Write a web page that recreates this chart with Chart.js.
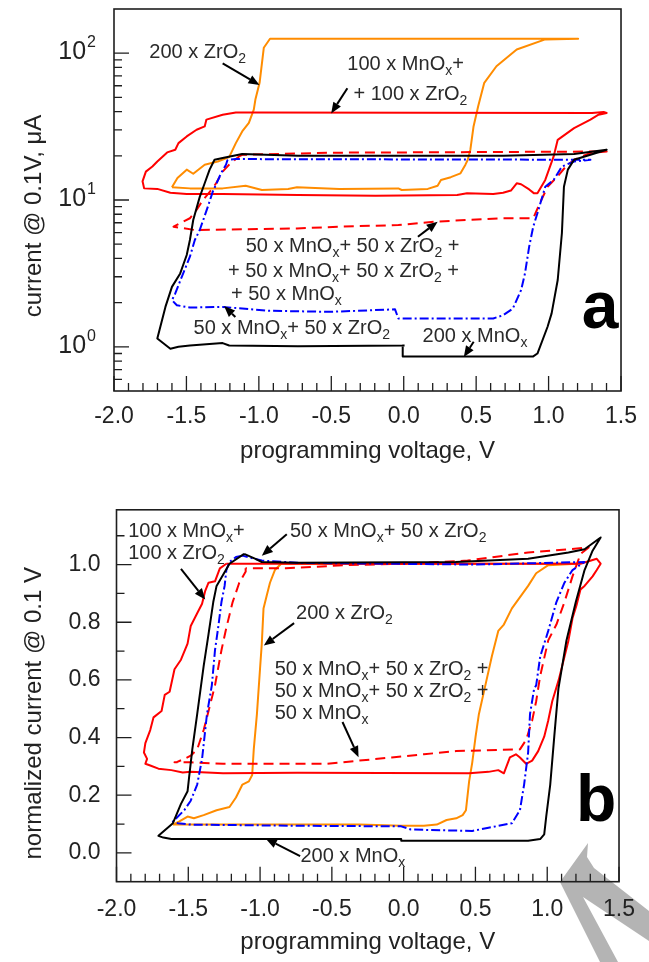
<!DOCTYPE html>
<html>
<head>
<meta charset="utf-8">
<script src="https://cdn.jsdelivr.net/npm/chart.js@4.4.1/dist/chart.umd.min.js"></script>
<style>
html, body { margin: 0; padding: 0; background: #fff; }
body { width: 649px; height: 962px; position: relative; overflow: hidden; }
.panel { position: absolute; left: 0; width: 649px; }
#panelA { top: 0; height: 480px; }
#panelB { top: 480px; height: 482px; }
#mark { position: absolute; left: 0; top: 0; }
</style>
</head>
<body>
<svg id="mark" width="649" height="962"><polygon points="588,843 560,882 600,962 618,962 583,897 649,941 649,911 594,868 587,857" fill="#b4b4b4"/></svg>
<div class="panel" id="panelA"><canvas id="chartA"></canvas></div>
<div class="panel" id="panelB"><canvas id="chartB"></canvas></div>
<script>
// ---- panel a : current @ 0.1 V (uA) vs programming voltage (V) ----
var aZrO2V = [-1.600,-1.562,-1.498,-1.453,-1.374,-1.284,-1.205,-1.159,-1.115,-1.069,-1.035,-1.024,-0.995,-0.966,-0.923,1.204,0.977,0.780,0.640,0.556,0.514,0.482,0.460,0.442,0.426,0.392,0.325,0.257,0.234,0.166,-0.014,-0.037,-0.444,-0.737,-0.798,-0.979,-1.091,-1.250,-1.476,-1.600];
var aZrO2I = [12.2,14.1,16.1,15.1,17.4,18.3,19.6,24.4,29.3,33.5,41.3,48.3,62.8,108.9,125.4,125.4,124.1,106,81.5,62.8,43.5,31.7,22.0,18.8,17.4,15.2,14.3,13.7,12.5,11.9,11.7,12.0,11.9,12.2,11.9,11.7,12.5,12.0,12.0,12.2];

var aMix100V = [-1.047,-1.159,-1.250,-1.362,-1.374,-1.430,-1.498,-1.555,-1.577,-1.633,-1.701,-1.735,-1.780,-1.803,-1.792,-1.701,-1.611,-1.498,-1.250,-0.730,-0.195,0.369,0.437,0.618,0.686,0.740,0.780,0.810,0.866,0.900,0.923,0.977,1.035,1.063,1.176,1.289,1.345,1.401,1.380,1.300,-1.047];
var aMix100I = [39.5,39.5,38.1,35.3,31.7,30.1,27.1,24.4,22.0,21.1,18.3,16.9,15.6,13.4,12.0,11.9,11.2,11.0,11.0,10.8,10.7,10.8,11.1,11.0,11.2,11.6,13.0,12.8,11.8,11.1,11.1,13.7,19.8,25.7,30.9,35.3,38.1,39.2,39.8,39.2,39.5];

var aMnOxV = [0.006,-0.730,-1.205,-1.250,-1.476,-1.555,-1.611,-1.701,-1.645,-1.600,-1.543,-1.498,-1.476,-1.453,-1.408,-1.374,-1.340,-1.306,-1.250,-1.115,-0.730,0.686,1.176,1.401,1.176,1.133,1.106,1.092,1.063,1.021,0.993,0.923,0.894,-0.007,-0.007,0.006];
var aMnOxI = [1.02,1.01,1.02,1.06,1.02,1.00,0.97,1.14,1.87,2.56,3.16,4.22,5.34,7.31,10.5,13.0,16.1,18.8,19.3,20.6,20.0,20.0,20.6,22.0,18.8,16.1,12.3,5.96,2.85,1.69,1.37,0.90,0.86,0.86,1.02,1.02];

var aMix50V = [-1.216,-1.227,-1.261,-1.318,-1.352,-1.408,-1.442,-1.476,-1.532,-1.577,-1.600,-1.566,-1.476,-1.250,-0.934,-0.512,-0.060,-0.037,0.618,0.686,0.753,0.810,0.837,0.866,0.894,0.923,0.950,0.977,1.035,1.092,1.176,1.289,-1.159,-1.216];
var aMix50I = [18.8,17.4,15.2,11.4,9.01,6.25,5.34,4.11,3.00,2.31,2.08,1.92,1.85,1.87,1.76,1.73,1.80,1.56,1.56,1.64,1.82,2.43,3.16,4.81,6.58,8.13,10.0,12.3,13.7,16.9,18.3,18.8,19.0,18.8];

var aMix250V = [-1.115,-1.137,-1.205,-1.250,-1.295,-1.329,-1.386,-1.430,-1.476,-1.589,-1.445,-0.737,-0.444,-0.037,0.212,0.686,0.894,0.950,0.993,1.063,1.119,1.176,1.289,1.401,0.5,-0.5,-1.115];
var aMix250I = [20.3,19.8,17.4,15.6,13.0,11.7,10.0,8.56,7.51,6.58,6.25,6.40,6.58,6.75,7.12,7.51,7.51,10.0,12.3,14.5,16.9,18.8,20.9,21.4,21.2,21.0,20.3];

// ---- panel b : normalized current @ 0.1 V ----
var bZrO2V = [-1.607,-1.562,-1.505,-1.461,-1.393,-1.303,-1.213,-1.168,-1.123,-1.078,-1.055,-1.044,-1.022,-0.999,-0.988,-0.976,-0.954,-0.931,-0.897,-0.853,-0.740,1.204,1.007,0.923,0.867,0.754,0.698,0.659,0.614,0.569,0.524,0.501,0.478,0.456,0.434,0.411,0.366,0.299,0.231,0.141,-0.017,-0.309,-0.760,-1.483,-1.607];
var bZrO2N = [0.098,0.109,0.126,0.120,0.131,0.148,0.159,0.192,0.237,0.248,0.270,0.359,0.481,0.648,0.726,0.848,0.892,0.937,0.981,1.003,1.003,1.003,0.998,0.970,0.926,0.848,0.792,0.770,0.681,0.581,0.481,0.403,0.314,0.248,0.148,0.131,0.120,0.114,0.098,0.094,0.094,0.098,0.098,0.098,0.098];

var bMix100V = [-1.235,-1.280,-1.314,-1.359,-1.382,-1.404,-1.438,-1.483,-1.505,-1.551,-1.596,-1.630,-1.664,-1.686,-1.742,-1.765,-1.799,-1.809,-1.787,-1.799,-1.765,-1.708,-1.618,-1.539,-1.483,-1.258,-0.740,0.456,0.591,0.659,0.698,0.740,0.782,0.810,0.853,0.895,0.937,0.979,1.007,1.035,1.080,1.148,1.176,1.204,1.232,1.260,1.316,1.345,1.372,1.345,1.232,-1.235];
var bMix100N = [1.003,0.987,0.942,0.937,0.909,0.864,0.831,0.787,0.726,0.670,0.637,0.559,0.548,0.492,0.470,0.426,0.381,0.348,0.326,0.309,0.303,0.292,0.287,0.279,0.281,0.276,0.278,0.276,0.281,0.287,0.276,0.331,0.342,0.331,0.309,0.320,0.353,0.403,0.459,0.526,0.600,0.737,0.814,0.859,0.914,0.926,0.959,0.981,1.003,1.020,1.003,1.003];

var bMnOxV = [-1.111,-1.213,-1.303,-1.326,-1.359,-1.393,-1.438,-1.472,-1.495,-1.505,-1.551,-1.607,-1.708,-1.674,-1.618,-0.740,-0.017,-0.017,0.867,0.951,0.979,0.993,1.021,1.049,1.078,1.134,1.199,1.260,1.316,1.372,1.260,1.148,0.867,0.361,-0.740,-0.988,-1.032,-1.111];
var bMnOxN = [1.037,1.003,0.926,0.870,0.759,0.648,0.481,0.359,0.259,0.214,0.170,0.103,0.059,0.053,0.048,0.048,0.048,0.042,0.042,0.048,0.064,0.126,0.237,0.403,0.570,0.737,0.870,0.981,1.048,1.094,1.053,1.042,1.020,1.009,1.006,1.009,1.020,1.037];

var bMix50V = [-1.123,-1.168,-1.213,-1.235,-1.247,-1.269,-1.292,-1.314,-1.336,-1.370,-1.382,-1.404,-1.438,-1.483,-1.528,-1.584,-1.607,-1.573,-1.483,-0.740,-0.017,0.051,0.478,0.591,0.754,0.810,0.839,0.867,0.880,0.909,0.923,0.951,1.007,1.064,1.120,1.176,1.260,0.500,-0.740,-0.988,-1.123];
var bMix50N = [1.031,1.026,1.009,0.981,0.926,0.870,0.781,0.703,0.581,0.481,0.426,0.326,0.237,0.181,0.148,0.120,0.109,0.103,0.098,0.094,0.092,0.081,0.076,0.087,0.103,0.148,0.237,0.348,0.481,0.570,0.581,0.681,0.770,0.870,0.937,0.981,1.009,1.000,1.006,1.014,1.031];

var bMix250V = [-1.101,-1.100,-1.145,-1.191,-1.235,-1.269,-1.314,-1.359,-1.393,-1.438,-1.483,-1.528,-1.584,-1.596,-1.483,-1.258,-0.740,-0.535,-0.309,-0.084,0.141,0.366,0.659,0.810,0.853,0.895,0.923,0.951,1.007,1.064,1.120,1.176,1.232,1.289,0.867,0.445,0.024,-0.398,-0.820,-1.101];
var bMix250N = [0.987,0.976,0.937,0.870,0.781,0.703,0.581,0.492,0.426,0.359,0.337,0.326,0.314,0.314,0.314,0.309,0.309,0.309,0.320,0.331,0.342,0.353,0.357,0.359,0.392,0.459,0.526,0.614,0.737,0.792,0.870,0.959,1.037,1.059,1.042,1.014,1.003,0.998,0.987,0.987];

// ticks
var xTicks = [-2.0, -1.5, -1.0, -0.5, 0.0, 0.5, 1.0, 1.5];
var aDecades = [1, 10, 100];
var aDecadeExp = ['0', '1', '2'];
var bTicks = [0.0, 0.2, 0.4, 0.6, 0.8, 1.0];

var FONT = '"Liberation Sans", Arial, sans-serif';
var INK = '#1e1e1e';
var TEXT = '#222222';
Chart.defaults.font.family = FONT;

var xMinor = [];
for (var i = -19; i < 15; i++) if (i % 5 !== 0) xMinor.push(i / 10);
var aMinor = [];
[0.1, 1, 10].forEach(function (d) {
  for (var m = 2; m <= 9; m++) { var v = m * d; if (v > 0.5) aMinor.push(v); }
});
var bMinor = [0.1, 0.3, 0.5, 0.7, 0.9, 1.1];

function pts(xs, ys) {
  return xs.map(function (x, k) { return { x: x, y: ys[k] }; });
}

function line(xs, ys, color, dash) {
  return {
    data: pts(xs, ys), showLine: true, borderColor: color, backgroundColor: color,
    borderWidth: 2, borderDash: dash || [], pointRadius: 0, tension: 0,
    borderJoinStyle: 'round', fill: false
  };
}

var ORANGE = '#ff8c00', RED = '#ff0000', BLUE = '#0000ff', BLACK = '#000000';
var DASH = [10, 6], DASHDOT = [9, 3, 2, 3];

// annotations (data units) and arrows
var decor = {
  chartA: {
    yMajor: aDecades, yMinor: aMinor, logLabels: true,
    yTitle: 'current @ 0.1V, \u03bcA', yTitleShift: 16,
    notes: [
      ['200 x ZrO_2', -1.756, 92.7],
      ['100 x MnO_x+', -0.389, 76.8],
      ['+ 100 x ZrO_2', -0.347, 48.0],
      ['50 x MnO_x+ 50 x ZrO_2 +', -1.091, 4.42],
      ['+ 50 x MnO_x+ 50 x ZrO_2 +', -1.213, 3.01],
      ['+ 50 x MnO_x', -1.193, 2.07],
      ['50 x MnO_x+ 50 x ZrO_2', -1.451, 1.213],
      ['200 x MnO_x', 0.130, 1.078]
    ],
    arrows: [
      [-1.250, 85.3, -0.996, 60.7],
      [-0.389, 57.7, -0.501, 38.9],
      [0.098, 5.62, 0.234, 7.11],
      [-1.162, 1.596, -1.240, 1.896],
      [0.483, 1.083, 0.415, 0.852]
    ],
    letter: ['a', 1.229, 1.343]
  },
  chartB: {
    yMajor: bTicks, yMinor: bMinor, logLabels: false,
    yTitle: 'normalized current @ 0.1 V', yTitleShift: 17.5,
    notes: [
      ['100 x MnO_x+', -1.919, 1.095],
      ['100 x ZrO_2', -1.919, 1.018],
      ['50 x MnO_x+ 50 x ZrO_2', -0.792, 1.095],
      ['200 x ZrO_2', -0.749, 0.812],
      ['50 x MnO_x+ 50 x ZrO_2 +', -0.898, 0.618],
      ['50 x MnO_x+ 50 x ZrO_2 +', -0.898, 0.541],
      ['50 x MnO_x', -0.898, 0.465],
      ['200 x MnO_x', -0.719, -0.033]
    ],
    arrows: [
      [-1.551, 0.985, -1.382, 0.879],
      [-0.814, 1.105, -0.988, 1.031],
      [-0.763, 0.797, -0.974, 0.719],
      [-0.426, 0.454, -0.314, 0.332],
      [-0.721, -0.011, -0.960, 0.049]
    ],
    letter: ['b', 1.200, 0.112]
  }
};

function richText(ctx, str, x, y) {
  var parts = str.split(/_(.)/);
  parts.forEach(function (p, k) {
    var sub = k % 2 === 1;
    ctx.font = (sub ? '14px ' : '20px ') + FONT;
    ctx.fillText(p, x, y + (sub ? 5 : 0));
    x += ctx.measureText(p).width;
  });
}

function arrow(ctx, x1, y1, x2, y2) {
  var ang = Math.atan2(y2 - y1, x2 - x1), hl = 11, hw = 4.5;
  var bx = x2 - hl * Math.cos(ang), by = y2 - hl * Math.sin(ang);
  ctx.beginPath(); ctx.moveTo(x1, y1); ctx.lineTo(bx, by); ctx.stroke();
  ctx.beginPath();
  ctx.moveTo(x2, y2);
  ctx.lineTo(bx + hw * Math.sin(ang), by - hw * Math.cos(ang));
  ctx.lineTo(bx - hw * Math.sin(ang), by + hw * Math.cos(ang));
  ctx.closePath(); ctx.fill();
}

var decorPlugin = {
  id: 'panelDecor',
  afterDraw: function (chart) {
    var d = decor[chart.canvas.id];
    var ctx = chart.ctx, a = chart.chartArea;
    var sx = chart.scales.x, sy = chart.scales.y;
    ctx.save();

    // inward tick marks + frame
    ctx.strokeStyle = INK; ctx.lineWidth = 1.3;
    ctx.beginPath();
    function xt(v, len) { var p = sx.getPixelForValue(v); ctx.moveTo(p, a.bottom); ctx.lineTo(p, a.bottom - len); }
    function yt(v, len) { var p = sy.getPixelForValue(v); ctx.moveTo(a.left, p); ctx.lineTo(a.left + len, p); }
    xTicks.forEach(function (v) { xt(v, 15); });
    xMinor.forEach(function (v) { xt(v, 8); });
    d.yMajor.forEach(function (v) { yt(v, 15); });
    d.yMinor.forEach(function (v) { yt(v, 8); });
    ctx.stroke();
    ctx.lineWidth = 1.6;
    ctx.strokeRect(a.left, a.top, a.right - a.left, a.bottom - a.top);

    ctx.fillStyle = TEXT;
    // 10^n labels on the log axis
    if (d.logLabels) {
      ctx.textBaseline = 'alphabetic'; ctx.textAlign = 'left';
      aDecades.forEach(function (v, k) {
        var p = sy.getPixelForValue(v);
        ctx.font = '25px ' + FONT; var w1 = ctx.measureText('10').width;
        ctx.font = '16px ' + FONT; var w2 = ctx.measureText(aDecadeExp[k]).width;
        var x0 = a.left - 18 - w2 - w1 - 1;
        ctx.font = '25px ' + FONT; ctx.fillText('10', x0, p + 6);
        ctx.font = '16px ' + FONT; ctx.fillText(aDecadeExp[k], x0 + w1 + 1, p - 6);
      });
    }

    // y axis title
    ctx.save();
    ctx.translate(41, (a.top + a.bottom) / 2 + d.yTitleShift);
    ctx.rotate(-Math.PI / 2);
    ctx.textAlign = 'center'; ctx.textBaseline = 'alphabetic';
    ctx.font = '24px ' + FONT;
    ctx.fillText(d.yTitle, 0, 0);
    ctx.restore();

    // labels
    ctx.fillStyle = '#2a2a2a';
    ctx.textAlign = 'left'; ctx.textBaseline = 'alphabetic';
    d.notes.forEach(function (n) {
      richText(ctx, n[0], sx.getPixelForValue(n[1]), sy.getPixelForValue(n[2]));
    });
    ctx.strokeStyle = BLACK; ctx.fillStyle = BLACK; ctx.lineWidth = 2;
    d.arrows.forEach(function (r) {
      arrow(ctx, sx.getPixelForValue(r[0]), sy.getPixelForValue(r[1]),
                 sx.getPixelForValue(r[2]), sy.getPixelForValue(r[3]));
    });
    ctx.font = 'bold 66px ' + FONT;
    ctx.fillText(d.letter[0], sx.getPixelForValue(d.letter[1]), sy.getPixelForValue(d.letter[2]));
    ctx.restore();
  }
};

function xScale(h, pad, bottomPad) {
  return {
    type: 'linear', min: -2, max: 1.5,
    afterBuildTicks: function (s) { s.ticks = xTicks.map(function (v) { return { value: v }; }); },
    afterFit: function (s) { s.height = h; },
    grid: { display: false, drawTicks: false }, border: { display: false },
    ticks: { padding: pad, color: TEXT, font: { size: 23 }, maxRotation: 0, autoSkip: false,
             callback: function (v) { return v.toFixed(1); } },
    title: { display: true, text: 'programming voltage, V', color: TEXT, font: { size: 24 },
             padding: { top: 0, bottom: bottomPad } }
  };
}

new Chart(document.getElementById('chartA'), {
  type: 'scatter',
  data: { datasets: [
    line(aMnOxV, aMnOxI, BLACK),
    line(aMix50V, aMix50I, BLUE, DASHDOT),
    line(aMix250V, aMix250I, RED, DASH),
    line(aMix100V, aMix100I, RED),
    line(aZrO2V, aZrO2I, ORANGE)
  ] },
  options: {
    responsive: true, maintainAspectRatio: false, animation: false,
    layout: { padding: { top: 9, right: 19, left: 0, bottom: 0 } },
    plugins: { legend: { display: false }, tooltip: { enabled: false } },
    scales: {
      x: xScale(89, 12, 14),
      y: {
        type: 'logarithmic', min: 0.5, max: 200,
        afterFit: function (s) { s.width = 114; },
        grid: { display: false, drawTicks: false }, border: { display: false },
        ticks: { display: false }
      }
    }
  },
  plugins: [decorPlugin]
});

new Chart(document.getElementById('chartB'), {
  type: 'scatter',
  data: { datasets: [
    line(bMnOxV, bMnOxN, BLACK),
    line(bMix50V, bMix50N, BLUE, DASHDOT),
    line(bMix250V, bMix250N, RED, DASH),
    line(bMix100V, bMix100N, RED),
    line(bZrO2V, bZrO2N, ORANGE)
  ] },
  options: {
    responsive: true, maintainAspectRatio: false, animation: false,
    layout: { padding: { top: 13.3, right: 14.6, left: 0, bottom: 0 } },
    plugins: { legend: { display: false }, tooltip: { enabled: false } },
    scales: {
      x: xScale(80.3, 14, 5),
      y: {
        type: 'linear', min: -0.1, max: 1.19,
        afterBuildTicks: function (s) { s.ticks = bTicks.map(function (v) { return { value: v }; }); },
        afterFit: function (s) { s.width = 116.5; },
        grid: { display: false, drawTicks: false }, border: { display: false },
        ticks: { padding: 16, color: TEXT, font: { size: 23 },
                 callback: function (v) { return v.toFixed(1); } }
      }
    }
  },
  plugins: [decorPlugin]
});
</script>
</body>
</html>
